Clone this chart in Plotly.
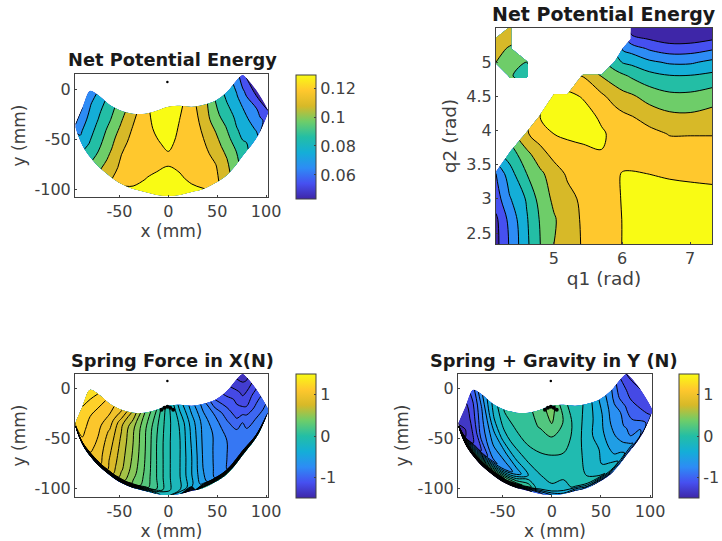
import numpy as np
import plotly.graph_objects as go

N = None
# ---- crescent workspace outline (mm)
x_mm = [-95, -88, -80, -72, -60, -48, -36, -24, -12, 0, 12, 24, 36, 48, 60, 70, 76, 80, 90, 102]
y_top = [-34, -18, -1, -5, -15, -21, -24, -24, -21, -17, -16, -17, -15, -11, -2, 10, 15, 12, 0, -20]
y_bot = [-38, -56, -68, -77, -87, -95, -100, -103, -106, -107, -106, -103, -100, -94, -86, -75, -67, -62, -49, -24]
frac_a = [0, .2, .4, .6, .8, 1]
frac_b = [0, .2, .4, .6, .8, .94, 1]

# Net potential energy, one row per x_mm entry, top edge to bottom edge
energy_xy = [
    [.060, .060, .061, .061, .062, .062],
    [.060, .064, .066, .070, .073, .075],
    [.061, .069, .073, .077, .081, .085],
    [.072, .077, .081, .085, .090, .094],
    [.085, .089, .094, .098, .103, .107],
    [.0965, .101, .106, .110, .113, .116],
    [.107, .111, .114, .116, .118, .1205],
    [.117, .116, .115, .115, .119, .124],
    [.124, .122, .1185, .115, .123, .128],
    [.130, .128, .1225, .1175, .125, .129],
    [.122, .119, .1175, .115, .1215, .126],
    [.113, .115, .115, .115, .1155, .124],
    [.105, .107, .110, .1135, .115, .1205],
    [.090, .094, .101, .106, .111, .115],
    [.0765, .082, .0885, .094, .100, .105],
    [.066, .071, .076, .081, .088, .094],
    [.052, .062, .070, .075, .080, .086],
    [.050, .058, .066, .073, .078, .083],
    [.047, .052, .061, .064, .069, .073],
    [.049, .050, .051, .052, .053, .054],
]
# Spring force in X
force_x = [
    [1.10, 1.10, 1.10, 1.10, 1.10, .60, -.50],
    [1.20, 1.18, 1.15, 1.12, 1.10, 1.08, -.40],
    [1.25, 1.18, 1.10, 1.07, 1.03, 1.00, -.40],
    [1.20, 1.10, 1.05, 1.00, .97, .95, -.50],
    [1.05, .98, .88, .83, .79, .77, -.60],
    [.92, .72, .68, .65, .62, .55, -.70],
    [.67, .52, .50, .48, .44, .38, -.70],
    [.40, .32, .31, .30, .28, .25, -.50],
    [.20, .12, .10, .10, .10, .10, -.30],
    [-.07, -.07, -.08, -.08, -.08, -.08, -.15],
    [-.35, -.22, -.20, -.20, -.20, -.18, -.40],
    [-.55, -.45, -.42, -.40, -.40, -.38, -1.2],
    [-.75, -.65, -.63, -.62, -.60, -.55, .30],
    [-1.0, -.80, -.72, -.72, -.72, -.72, .30],
    [-1.15, -1.0, -.87, -.80, -.80, -.80, .30],
    [-1.30, -1.15, -1.05, -.90, -.83, -.83, .30],
    [-1.35, -1.25, -1.10, -.90, -.85, -.85, .30],
    [-1.33, -1.20, -1.10, -.93, -.87, -.87, .30],
    [-1.10, -1.03, -.97, -.90, -.87, -.87, .30],
    [-.85, -.85, -.85, -.85, -.85, -.85, .30],
]
# Spring + gravity in Y
force_y = [
    [-1.35, -1.35, -1.35, -1.35, -1.35, .30, -1.4],
    [-1.25, -1.30, -1.33, -1.35, -1.35, .30, -1.4],
    [-.95, -1.05, -1.10, -1.17, -1.20, .30, -1.4],
    [-.65, -.78, -.82, -.88, -1.05, .30, -1.4],
    [-.27, -.33, -.50, -.62, -.78, .30, -1.4],
    [.02, -.09, -.22, -.50, -.70, .30, -1.4],
    [.05, .02, -.08, -.26, -.55, .20, -1.4],
    [.11, .10, .01, -.12, -.30, .10, -1.2],
    [.22, .16, .06, -.05, -.17, -.30, -.90],
    [.40, .30, .10, -.03, -.10, -.20, -.60],
    [.03, .14, .07, -.03, -.13, -.20, -.50],
    [-.06, -.06, -.06, -.07, -.09, -.12, -.70],
    [-.20, -.22, -.24, -.21, -.17, -.12, -.60],
    [-.45, -.38, -.37, -.30, -.27, -.13, -.80],
    [-.72, -.65, -.60, -.52, -.40, -.17, -.80],
    [-1.05, -.95, -.75, -.70, -.55, -.35, -.70],
    [-1.20, -1.05, -.92, -.80, -.65, -.50, -.80],
    [-1.22, -1.10, -1.00, -.87, -.75, -.55, -.85],
    [-1.20, -1.15, -1.05, -.95, -.76, -.72, -1.00],
    [-1.10, -1.10, -1.10, -1.10, -1.10, -1.10, -1.20],
]
# Net potential energy in joint space
q1_rad = [4.15, 4.35, 4.6, 4.8, 5.0, 5.2, 5.43, 5.7, 5.9, 6.02, 6.14, 6.4, 6.7, 7.0, 7.32]
q2_rad = [2.34, 2.7, 3.0, 3.37, 3.65, 3.95, 4.2, 4.5, 4.8, 5.0, 5.2, 5.34, 5.5]
energy_q = [
    [.047, .061, .078, .090, .100, .105, .111, .115, .118, .1205, .122, .124, .125, .125, .125],
    [.048, .063, .079, .091, .099, .105, .1115, .115, .118, .1205, .122, .125, .125, .125, .125],
    [.055, .069, .081, .094, .102, .107, .112, .116, .119, .1205, .122, .124, .1235, .124, .124],
    [.060, .076, .090, .098, .105, .1115, .114, .116, .119, .1205, .1205, .1199, .119, .118, .117],
    [N, .084, .097, .106, .113, .115, .116, .1195, .116, .1165, .117, .115, .115, .115, .115],
    [N, N, .109, .115, .120, .122, .124, .1215, .117, .116, .115, .113, .1095, .1095, .1095],
    [N, N, N, .1205, .124, .125, .125, .118, .1145, .112, .1105, .106, .1025, .102, .104],
    [N, N, N, N, .125, .123, .119, .112, .1055, .103, .1015, .096, .0925, .0925, .0955],
    [N, .091, .086, N, N, N, .1095, .0995, .0945, .0915, .0885, .0835, .0805, .0805, .0825],
    [.100, .095, .090, N, N, N, N, N, .0835, .079, .0775, .072, .0685, .0685, .0725],
    [.103, .099, N, N, N, N, N, N, N, .068, .0655, .0585, .0545, .055, .0585],
    [.106, .103, N, N, N, N, N, N, N, N, .053, .0495, .046, .046, .049],
    [N, .105, N, N, N, N, N, N, N, N, .045, .042, .040, .040, .041],
]
stray_x = [-1]
stray_y = [8]
clutter_x = [-7, -4, -1, 2, 5]
clutter_y = [-21, -19, -18, -19, -21]

energy_ticks = [.06, .08, .1, .12]
energy_labels = ["0.06", "0.08", "0.1", "0.12"]
force_ticks = [-1, 0, 1]
force_labels = ["-1", "0", "1"]

parula = [[0, "#3e26a8"], [.125, "#4650f0"], [.25, "#2d8cf5"], [.375, "#14aed7"],
          [.5, "#23bea5"], [.625, "#6ecd69"], [.75, "#d7b928"], [.875, "#ffc82d"], [1, "#f9fb14"]]

INK = "#404040"
W, H = 722, 541
FONT = "DejaVu Sans"


def px_x(p):
    return p / W


def px_y(p):
    return 1 - p / H


panels = [
    dict(ax="", box=(75, 268, 74, 197), xr=[-95.5, 102], yr=[-108, 16], title="Net Potential Energy", tx=172, ty=60, cb=(296, 75, 199), ts=17.8, ls=17),
    dict(ax="2", box=(496, 712, 28, 244), xr=[4.15, 7.32], yr=[2.34, 5.5], title="Net Potential Energy", tx=604, ty=14, cb=None, ts=19, ls=18.5),
    dict(ax="3", box=(75, 268, 374, 497), xr=[-95.5, 102], yr=[-109, 15], title="Spring Force in X(N)", tx=172, ty=360, cb=(296, 374, 498), ts=17.8, ls=17),
    dict(ax="4", box=(458, 652, 374, 497), xr=[-95.5, 102], yr=[-109, 15], title="Spring + Gravity in Y (N)", tx=554, ty=360, cb=(679, 374, 498), ts=17.8, ls=17),
]

fig = go.Figure()
top = np.array(y_top, float)
bot = np.array(y_bot, float)


def add_carpet(cid, ax, fr, z, start, end, size):
    fr_arr = np.array(fr)
    X = np.tile(np.array(x_mm, float), (len(fr), 1))
    Y = np.array([top + f * (bot - top) for f in fr_arr])
    hide = dict(showgrid=False, showticklabels="none", showline=False, startline=False, endline=False,
                minorgridcount=0, title=dict(text=""))
    fig.add_trace(go.Carpet(carpet=cid, a=x_mm, b=fr, x=X, y=Y, xaxis="x" + ax, yaxis="y" + ax,
                            aaxis=dict(smoothing=1, **hide), baxis=dict(smoothing=0, **hide)))
    fig.add_trace(go.Contourcarpet(carpet=cid, a=x_mm, b=fr, z=np.array(z).T, xaxis="x" + ax, yaxis="y" + ax,
                                   autocontour=False, colorscale=parula, showscale=False,
                                   contours=dict(start=start, end=end, size=size, coloring="fill", showlines=True),
                                   line=dict(color="black", width=1)))


add_carpet("c1", "", frac_a, energy_xy, .05, .12, .01)
fig.add_trace(go.Contour(x=q1_rad, y=q2_rad, z=energy_q, xaxis="x2", yaxis="y2", connectgaps=False,
                         autocontour=False, colorscale=parula, showscale=False,
                         contours=dict(start=.05, end=.12, size=.01, coloring="fill", showlines=True),
                         line=dict(color="black", width=1)))
add_carpet("c3", "3", frac_b, force_x, -1.4, 1.4, .1)
add_carpet("c4", "4", frac_b, force_y, -1.35, 1.35, .15)

for ax in ["", "3", "4"]:
    fig.add_trace(go.Scatter(x=stray_x, y=stray_y, mode="markers", xaxis="x" + ax, yaxis="y" + ax,
                             marker=dict(color="black", size=2.5), showlegend=False, hoverinfo="skip"))
for ax in ["3", "4"]:
    fig.add_trace(go.Scatter(x=clutter_x, y=clutter_y, mode="markers", xaxis="x" + ax, yaxis="y" + ax,
                             marker=dict(color="black", size=4), showlegend=False, hoverinfo="skip"))

layout = dict(width=W, height=H, margin=dict(l=0, r=0, t=0, b=0, autoexpand=False), paper_bgcolor="white", plot_bgcolor="white",
              showlegend=False, font=dict(family=FONT, color=INK, size=15), annotations=[])

for p in panels:
    l, r, t, b = p["box"]
    q = p["ax"] == "2"
    common = dict(showgrid=False, zeroline=False, showline=True, mirror=True, linecolor=INK, linewidth=1,
                  ticks="inside", ticklen=2, tickcolor=INK, tickfont=dict(family=FONT, size=16, color=INK))
    xa = dict(domain=[px_x(l), px_x(r)], range=p["xr"], anchor="y" + p["ax"], autorange=False,
              tickvals=[5, 6, 7] if q else [-50, 0, 50, 100],
              ticktext=["5", "6", "7"] if q else ["-50", "0", "50", "100"],
              title=dict(text="q1 (rad)" if q else "x (mm)", standoff=2, font=dict(family=FONT, size=p["ls"], color=INK)), **common)
    ya = dict(domain=[px_y(b), px_y(t)], range=p["yr"], anchor="x" + p["ax"], autorange=False,
              tickvals=[2.5, 3, 3.5, 4, 4.5, 5] if q else [-100, -50, 0],
              ticktext=["2.5", "3", "3.5", "4", "4.5", "5"] if q else ["-100", "-50", "0"],
              title=dict(text="q2 (rad)" if q else "y (mm)", standoff=4, font=dict(family=FONT, size=p["ls"], color=INK)), **common)
    layout["xaxis" + p["ax"]] = xa
    layout["yaxis" + p["ax"]] = ya
    layout["annotations"].append(dict(text="<b>%s</b>" % p["title"], xref="paper", yref="paper",
                                      x=px_x(p["tx"]), y=px_y(p["ty"]), xanchor="center", yanchor="middle", showarrow=False,
                                      font=dict(family=FONT, size=p["ts"], color="#1a1a1a")))
    if p["cb"]:
        cx, ct, cb = p["cb"]
        energy = p["ax"] == ""
        fig.add_trace(go.Scatter(x=[None], y=[None], mode="markers", xaxis="x" + p["ax"], yaxis="y" + p["ax"],
                                 showlegend=False, hoverinfo="skip",
                                 marker=dict(color=[0], colorscale=parula, showscale=True,
                                             cmin=.0434 if energy else -1.5, cmax=.129 if energy else 1.5,
                                             colorbar=dict(x=px_x(cx), xanchor="left", xpad=0, ypad=0,
                                                           y=px_y(cb), yanchor="bottom", len=(cb - ct) / H,
                                                           lenmode="fraction", thickness=20, thicknessmode="pixels",
                                                           outlinecolor=INK, outlinewidth=1, ticks="inside", ticklen=2,
                                                           tickcolor=INK, tickfont=dict(family=FONT, size=16, color=INK),
                                                           tickvals=energy_ticks if energy else force_ticks,
                                                           ticktext=energy_labels if energy else force_labels))))

fig.update_layout(**layout)
fig.write_html("out.html", config={"displayModeBar": False}, post_script="document.body.style.margin='0';")
